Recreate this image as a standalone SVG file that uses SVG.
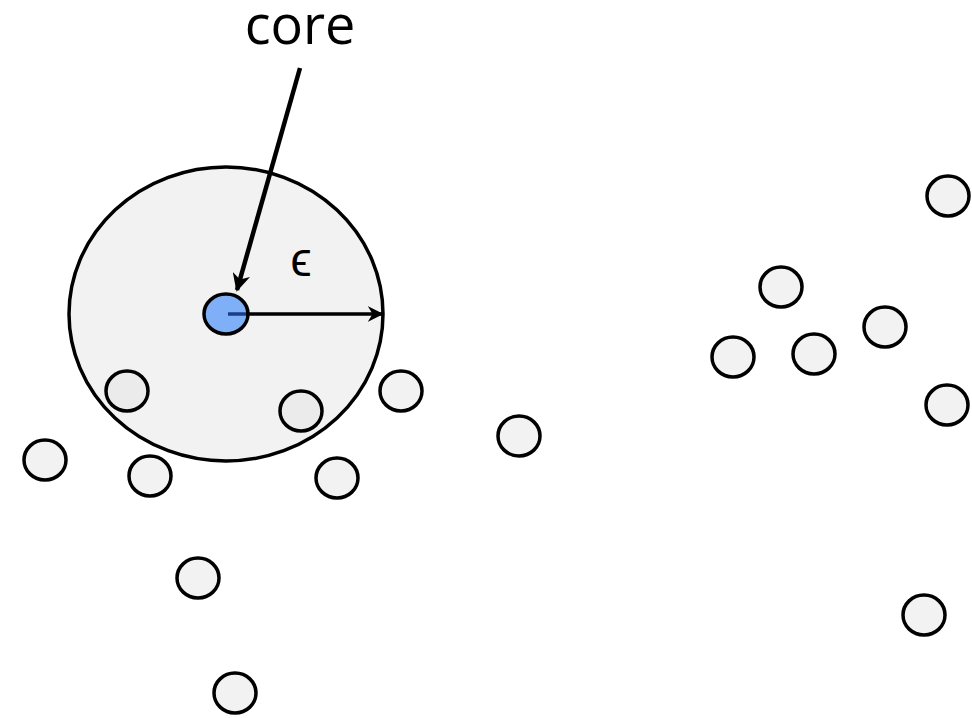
<svg xmlns="http://www.w3.org/2000/svg" width="972" height="718" viewBox="0 0 972 718">
<style>
.pt{fill:#f2f2f2;stroke:#000;stroke-width:3.5}
.pi{fill:#ebebeb;stroke:#000;stroke-width:3.5}
.lbl{font-family:"Open Sans","Liberation Sans",sans-serif;fill:#000}
</style>
<defs>
<marker id="ah" viewBox="0 0 10 10" refX="9" refY="5" markerWidth="4" markerHeight="4" orient="auto" markerUnits="strokeWidth">
<path d="M0,0 L10,5 L0,10 L3,5 z" fill="#000"/>
</marker>
<marker id="ah2" viewBox="0 0 10 10" refX="9" refY="5" markerWidth="4.5" markerHeight="4.5" orient="auto" markerUnits="strokeWidth">
<path d="M0,0 L10,5 L0,10 L3,5 z" fill="#000"/>
</marker>
</defs>
<rect width="972" height="718" fill="#fff"/>
<g id="neighborhood">
<ellipse cx="226" cy="314" rx="157" ry="147" fill="#f2f2f2" stroke="#000" stroke-width="3.5"/>
</g>
<g id="points">
<ellipse class="pi" cx="127" cy="391" rx="21" ry="20"/>
<ellipse class="pi" cx="301" cy="411" rx="21" ry="20"/>
<ellipse class="pt" cx="401" cy="391" rx="21" ry="20"/>
<ellipse class="pt" cx="45" cy="460" rx="21" ry="20"/>
<ellipse class="pt" cx="150" cy="476" rx="21" ry="20"/>
<ellipse class="pt" cx="337" cy="478" rx="21" ry="20"/>
<ellipse class="pt" cx="519" cy="436" rx="21" ry="20"/>
<ellipse class="pt" cx="198" cy="578" rx="21" ry="20"/>
<ellipse class="pt" cx="235" cy="693" rx="21" ry="20"/>
<ellipse class="pt" cx="948" cy="196" rx="21" ry="20"/>
<ellipse class="pt" cx="781" cy="287" rx="21" ry="20"/>
<ellipse class="pt" cx="885" cy="327" rx="21" ry="20"/>
<ellipse class="pt" cx="733" cy="357" rx="21" ry="20"/>
<ellipse class="pt" cx="814" cy="354" rx="21" ry="20"/>
<ellipse class="pt" cx="947" cy="405" rx="21" ry="20"/>
<ellipse class="pt" cx="924" cy="615" rx="21" ry="20"/>
</g>
<g id="core">
<ellipse cx="226" cy="314" rx="22" ry="20" fill="#7fb0f7" stroke="#000" stroke-width="3.5"/>
</g>
<g id="connectors">
<line x1="228" y1="314" x2="246" y2="314" stroke="#1a3f86" stroke-width="3.5"/>
<line x1="246" y1="314" x2="382" y2="314" stroke="#000" stroke-width="3.5" marker-end="url(#ah2)"/>
<line x1="300" y1="68" x2="237" y2="290" stroke="#000" stroke-width="4.5" marker-end="url(#ah)"/>
</g>
<text class="lbl" x="300" y="44" font-size="54" text-anchor="middle">core</text>
<text class="lbl" x="301" y="276" font-size="48" text-anchor="middle">ϵ</text>
</svg>
